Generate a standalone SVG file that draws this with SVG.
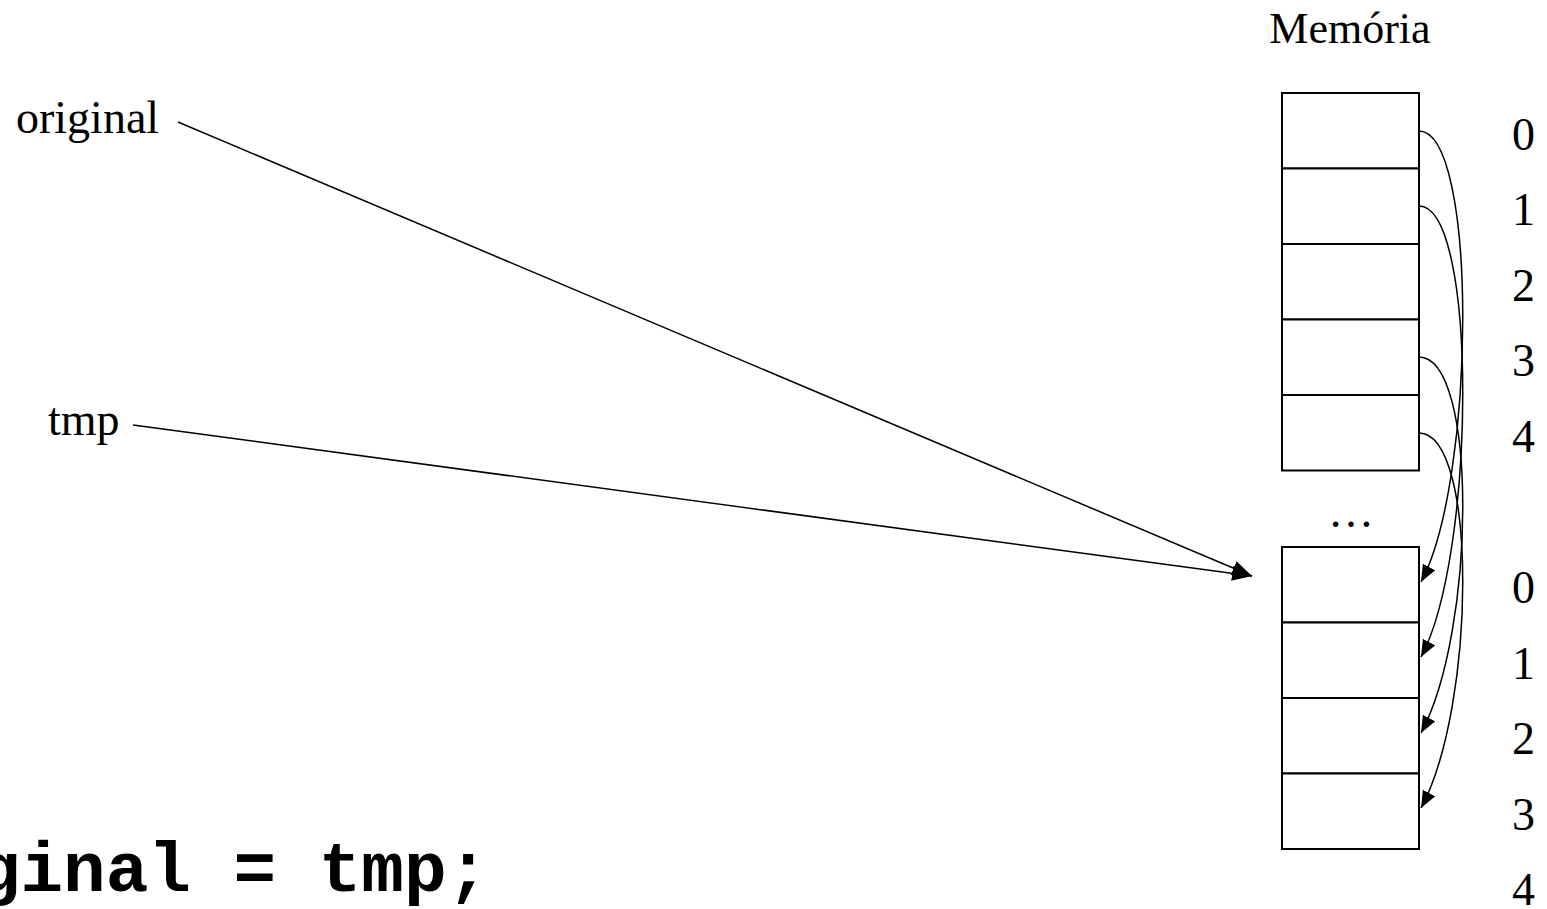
<svg xmlns="http://www.w3.org/2000/svg" width="1547" height="909" viewBox="0 0 1547 909">
<style>
.t{font-family:"Liberation Serif","Times New Roman",serif;font-size:46px;fill:#000}
.code{font-family:"Liberation Mono","Courier New",monospace;font-size:71px;font-weight:bold;fill:#000}
.cell{fill:#fff;stroke:#000;stroke-width:2}
.ln{fill:none;stroke:#000;stroke-width:1.5}
</style>
<defs>
<marker id="ah" markerUnits="userSpaceOnUse" markerWidth="22" markerHeight="16" refX="20" refY="7.5" orient="auto">
<path d="M0,0 L20,7.5 L0,15 z" fill="#000"/>
</marker>
<marker id="ahc" markerUnits="userSpaceOnUse" markerWidth="19" markerHeight="15" refX="17" refY="7" orient="auto">
<path d="M0,0 L17,7 L0,14 z" fill="#000"/>
</marker>
</defs>
<rect width="1547" height="909" fill="#fff"/>
<text class="t" x="1350" y="43" text-anchor="middle" style="font-size:44px">Memória</text>
<g id="top-memory">
<rect class="cell" x="1282" y="93" width="137" height="75.5"/>
<rect class="cell" x="1282" y="168.5" width="137" height="75.5"/>
<rect class="cell" x="1282" y="244" width="137" height="75.5"/>
<rect class="cell" x="1282" y="319.5" width="137" height="75.5"/>
<rect class="cell" x="1282" y="395" width="137" height="75.5"/>
</g>
<g id="bottom-memory">
<rect class="cell" x="1282" y="547" width="137" height="75.5"/>
<rect class="cell" x="1282" y="622.5" width="137" height="75.5"/>
<rect class="cell" x="1282" y="698" width="137" height="75.5"/>
<rect class="cell" x="1282" y="773.5" width="137" height="75.5"/>
</g>
<g id="indices">
<text class="t" x="1512" y="150">0</text>
<text class="t" x="1512" y="225">1</text>
<text class="t" x="1512" y="301">2</text>
<text class="t" x="1512" y="376">3</text>
<text class="t" x="1512" y="452">4</text>
<text class="t" x="1512" y="603">0</text>
<text class="t" x="1512" y="679">1</text>
<text class="t" x="1512" y="754">2</text>
<text class="t" x="1512" y="830">3</text>
<text class="t" x="1512" y="905">4</text>
</g>
<text class="t" x="1351" y="527" text-anchor="middle">…</text>
<g id="original"><text class="t" x="16" y="133">original</text></g>
<g id="tmp"><text class="t" x="48" y="435">tmp</text></g>
<g id="connectors">
<line class="ln" x1="178" y1="122" x2="1252" y2="576" marker-end="url(#ah)"/>
<line class="ln" x1="133" y1="425" x2="1252" y2="576" marker-end="url(#ah)"/>
<path class="ln" d="M1419,131 C1478,131 1476,480 1421,582" marker-end="url(#ahc)"/>
<path class="ln" d="M1419,206 C1478,206 1476,555 1421,657" marker-end="url(#ahc)"/>
<path class="ln" d="M1419,357 C1478,357 1476,631 1421,733" marker-end="url(#ahc)"/>
<path class="ln" d="M1419,433 C1478,433 1476,706 1421,808" marker-end="url(#ahc)"/>
</g>
<text class="code" x="-150" y="891">original = tmp;</text>
</svg>
